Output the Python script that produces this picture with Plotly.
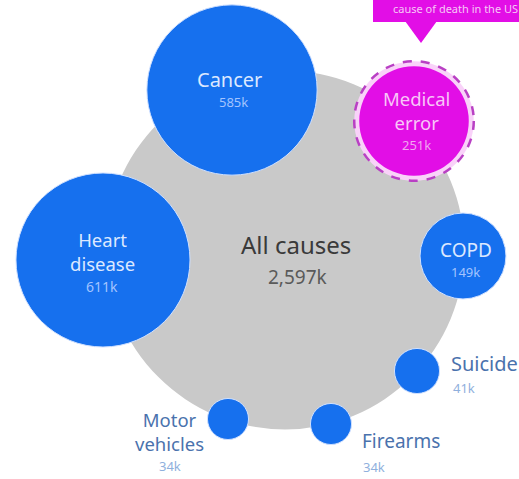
import math
import plotly.graph_objects as go

# ---- data ----
causes = ["All causes", "Cancer", "Heart disease", "Medical error", "COPD",
          "Suicide", "Firearms", "Motor vehicles"]
deaths_k = [2597, 585, 611, 251, 149, 41, 34, 34]
value_labels = ["2,597k", "585k", "611k", "251k", "149k", "41k", "34k", "34k"]
name_labels = ["All causes", "Cancer", "Heart<br>disease", "Medical<br>error", "COPD",
               "Suicide", "Firearms", "Motor<br>vehicles"]

# ---- layout (pixel space) ----
W, H = 519, 479
centers = {
    "All causes": (285, 250),
    "Cancer": (232, 90),
    "Heart disease": (103, 260),
    "Medical error": (414, 121),
    "COPD": (463, 256),
    "Suicide": (417, 371),
    "Firearms": (331, 424),
    "Motor vehicles": (228, 419),
}
K = 3.52  # px per sqrt(k deaths)
radius = {c: K * math.sqrt(v) for c, v in zip(causes, deaths_k)}

BLUE = "#1670ee"
GRAY = "#c9c9c9"
MAG = "#e20ee6"
FONT = "Noto Sans"

shapes = []
def circle(cx, cy, r, fill, line_color=None, lw=0, dash="solid"):
    shapes.append(dict(type="circle", xref="x", yref="y",
                       x0=cx - r, x1=cx + r, y0=cy - r, y1=cy + r,
                       fillcolor=fill, layer="above",
                       line=dict(color=line_color or fill, width=lw, dash=dash)))

for c in causes:
    cx, cy = centers[c]
    r = radius[c]
    if c == "All causes":
        circle(cx, cy, r, GRAY)
    elif c == "Medical error":
        circle(cx, cy, r + 4, "#f9d2f9", "#b940c4", 2.5, "dash")
        circle(cx, cy, r - 1, MAG)
    else:
        circle(cx, cy, r, BLUE, "#cfe0ff", 1)

# callout box
shapes.append(dict(type="rect", xref="x", yref="y", x0=373, x1=540, y0=-10, y1=22,
                   fillcolor=MAG, line=dict(width=0), layer="above"))
shapes.append(dict(type="path", xref="x", yref="y",
                   path="M 405 21 L 437 21 L 421 43 Z",
                   fillcolor=MAG, line=dict(width=0), layer="above"))

ann = []
def text(x, y, s, size, color, xanchor="center"):
    ann.append(dict(x=x, y=y, xref="x", yref="y", text=s, showarrow=False,
                    xanchor=xanchor, yanchor="middle", align=xanchor if xanchor != "left" else "left",
                    font=dict(family=FONT, size=size, color=color)))

lbl = dict(zip(causes, value_labels))
nm = dict(zip(causes, name_labels))
WHITE_T = "#dce8ff"
VAL_T = "#a3c4ff"
OUT_T = "#4a72ad"
OUT_V = "#8fb0dd"
# All causes
text(296, 244, nm["All causes"], 24, "#3a3a3a")
text(297, 277, lbl["All causes"], 19, "#5a5a5a")
# Cancer
text(229, 79, nm["Cancer"], 20, WHITE_T)
text(233, 102, lbl["Cancer"], 13, VAL_T)
# Heart disease
text(102, 251, nm["Heart disease"], 18.5, WHITE_T)
text(102, 286, lbl["Heart disease"], 14, VAL_T)
# Medical error
text(416, 110, nm["Medical error"], 18.5, "#f8c6f8")
text(416, 145, lbl["Medical error"], 13, "#f1a6f1")
# COPD
text(466, 250, nm["COPD"], 19, WHITE_T)
text(465, 272, lbl["COPD"], 13, VAL_T)
# Suicide
text(449, 363, nm["Suicide"], 20, OUT_T, "left")
text(451, 388, lbl["Suicide"], 13, OUT_V, "left")
# Firearms
text(360, 441, nm["Firearms"], 19, OUT_T, "left")
text(361, 467, lbl["Firearms"], 13, OUT_V, "left")
# Motor vehicles
text(169, 431, nm["Motor vehicles"], 18.5, OUT_T)
text(170, 466, lbl["Motor vehicles"], 13, OUT_V)
# callout text
text(391, 8, "cause of death in the US", 11, "#f6c8f6", "left")

fig = go.Figure()
fig.update_layout(
    width=W, height=H, margin=dict(l=0, r=0, t=0, b=0),
    paper_bgcolor="white", plot_bgcolor="white",
    xaxis=dict(range=[0, W], visible=False, fixedrange=True),
    yaxis=dict(range=[H, 0], visible=False, fixedrange=True),
    shapes=shapes, annotations=ann, showlegend=False,
)
fig.write_html("out.html")
